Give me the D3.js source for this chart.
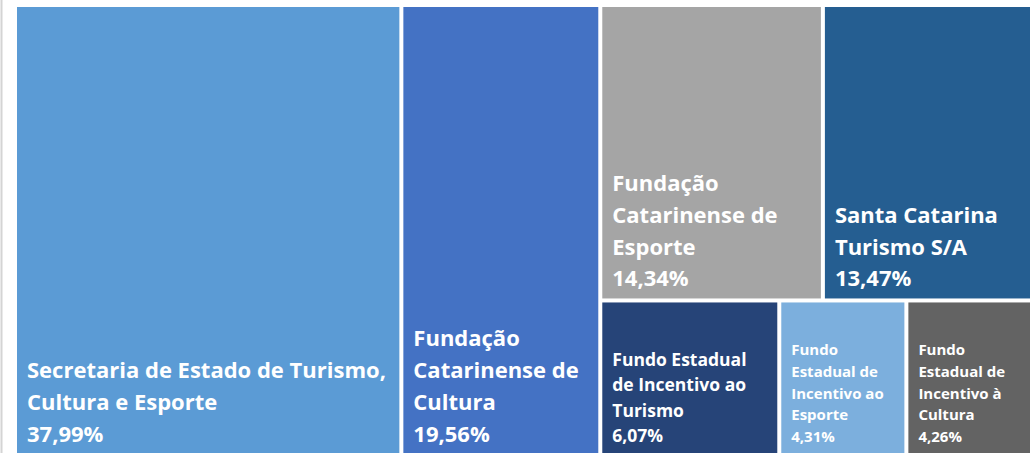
<!DOCTYPE html>
<html>
<head>
<meta charset="utf-8">
<script src="https://cdn.jsdelivr.net/npm/d3@7"></script>
<style>
  html, body { margin: 0; padding: 0; background: #ffffff; }
  svg { display: block; }
</style>
</head>
<body>
<svg id="chart" width="1032" height="453"></svg>
<script>
// ---- data ----
const names = [
  "Secretaria de Estado de Turismo,\nCultura e Esporte",
  "Fundação\nCatarinense de\nCultura",
  "Fundação\nCatarinense de\nEsporte",
  "Santa Catarina\nTurismo S/A",
  "Fundo Estadual\nde Incentivo ao\nTurismo",
  "Fundo\nEstadual de\nIncentivo ao\nEsporte",
  "Fundo\nEstadual de\nIncentivo à\nCultura"
];
const values = [37.99, 19.56, 14.34, 13.47, 6.07, 4.31, 4.26];
const valueLabels = ["37,99%", "19,56%", "14,34%", "13,47%", "6,07%", "4,31%", "4,26%"];
// structural grouping of the treemap (column / row blocks)
const groups = ["A", "B", "R-top", "R-top", "R-bottom", "R-bottom", "R-bottom"];
const colors = ["#5B9BD5", "#4472C4", "#A5A5A5", "#255E91", "#264478", "#7CAFDD", "#636363"];

// ---- build hierarchy ----
const items = names.map((n, i) => ({ name: n, value: values[i], label: valueLabels[i], color: colors[i], group: groups[i] }));
const rootData = {
  name: "root",
  children: [
    items[0],
    items[1],
    {
      name: "right",
      children: [
        { name: "R-top", children: items.filter(d => d.group === "R-top") },
        { name: "R-bottom", children: items.filter(d => d.group === "R-bottom") }
      ]
    }
  ]
};

const X0 = 17, Y0 = 7, W = 1013, H = 447;

const root = d3.hierarchy(rootData).sum(d => d.children ? 0 : d.value);

function tile(node, x0, y0, x1, y1) {
  if (node.depth === 0 || node.depth === 2) d3.treemapDice(node, x0, y0, x1, y1);
  else d3.treemapSlice(node, x0, y0, x1, y1);
}

d3.treemap()
  .size([W, H])
  .tile(tile)
  .paddingInner(4)
  .paddingOuter(0)
  .round(false)(root);

const svg = d3.select("#chart");

// left border line of the chart area
svg.append("line")
  .attr("x1", 1.5).attr("x2", 1.5)
  .attr("y1", 0).attr("y2", 453)
  .attr("stroke", "#d4d4d4").attr("stroke-width", 2);

const g = svg.append("g").attr("transform", `translate(${X0},${Y0})`);

const leaves = root.leaves();

const cell = g.selectAll("g.cell").data(leaves).join("g").attr("class", "cell");

cell.append("rect")
  .attr("x", d => d.x0)
  .attr("y", d => d.y0)
  .attr("width", d => d.x1 - d.x0)
  .attr("height", d => d.y1 - d.y0)
  .attr("fill", d => d.data.color);

cell.each(function(d) {
  const w = d.x1 - d.x0;
  const fs = w >= 190 ? 22 : (w >= 150 ? 17.5 : 15);
  const lh = fs * 1.45;
  const lines = d.data.name.split("\n").concat([d.data.label]);
  const lastBase = d.y1 - 12;
  const t = d3.select(this).append("text")
    .attr("fill", "#ffffff")
    .attr("font-family", "'Open Sans', 'DejaVu Sans', sans-serif")
    .attr("font-weight", 700)
    .attr("font-size", fs);
  lines.forEach((ln, i) => {
    t.append("tspan")
      .attr("x", d.x0 + 10)
      .attr("y", lastBase - (lines.length - 1 - i) * lh)
      .text(ln);
  });
});
</script>
</body>
</html>
